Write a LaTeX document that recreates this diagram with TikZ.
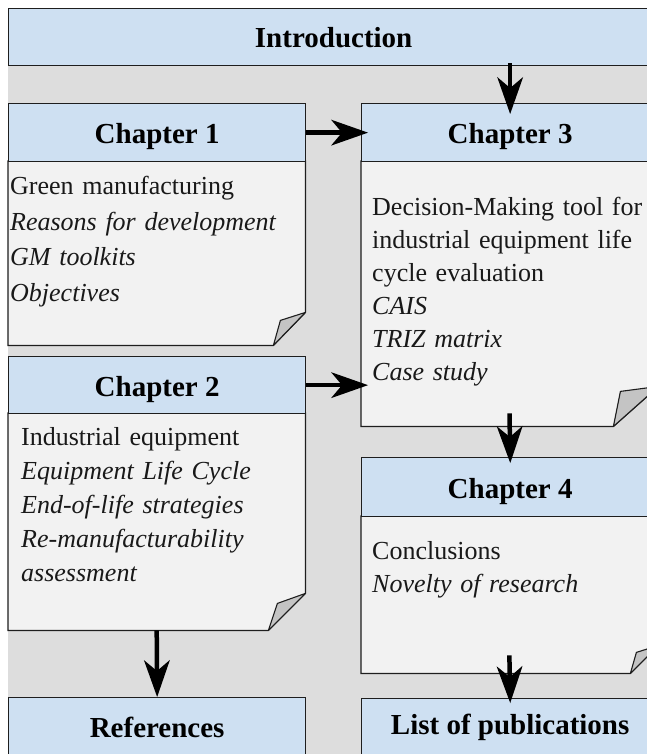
\documentclass[tikz,border=0pt]{standalone}
\usepackage{fontspec}
\setmainfont{Liberation Serif}
\usetikzlibrary{arrows.meta}

\definecolor{panelgray}{RGB}{221,221,221}
\definecolor{headblue}{RGB}{206,224,242}
\definecolor{notefill}{RGB}{242,242,242}
\definecolor{foldgray}{RGB}{196,196,196}
\definecolor{edgeline}{RGB}{30,30,30}

\begin{document}
\begin{tikzpicture}[x=1pt,y=-1pt,
  header/.style={draw=edgeline, line width=1.3pt, fill=headblue, anchor=north west,
    inner sep=0pt, font=\fontsize{29}{32}\selectfont\bfseries, text=black},
  chapterhead/.style={header, text height=22pt, text depth=0pt},
  bodyarea/.style={anchor=north west, inner sep=0pt, minimum width=#1},
  notebody/.style={draw=edgeline, line width=1.3pt, fill=notefill, line join=miter},
  fold/.style={draw=edgeline, line width=1.1pt, fill=foldgray, line join=round},
  bodytext/.style={anchor=base west, inner sep=0pt, text width=285pt, align=left,
    text=black!90, font=\fontsize{26}{#1}\selectfont},
  flow/.style={line width=4.5pt,
    -{Stealth[length=37pt,width=26pt,inset=11pt,line width=0pt]}}
]
\useasboundingbox (0,0) rectangle (647,754);
\fill[white] (0,0) rectangle (647,754);
\fill[panelgray] (8,65) rectangle (662,760);

% Introduction banner
\node[header, minimum width=650pt, minimum height=57pt] (intro) at (8,8) {Introduction};

% Chapter 1
\node[bodyarea=297pt, minimum height=184pt] (b1) at (8,161) {};
\path[notebody] (b1.north west) -- (b1.north east) -- ([yshift=33pt]b1.south east)
  -- ([xshift=-32pt]b1.south east) -- (b1.south west) -- cycle;
\path[fold] ([xshift=-32pt]b1.south east) -- ([xshift=-25pt,yshift=25pt]b1.south east)
  -- ([yshift=33pt]b1.south east) -- cycle;
\node[chapterhead, minimum width=297pt, minimum height=58pt] (h1) at (8,103) {Chapter 1};
\node[bodytext=35.7pt] (t1) at (10,194.5) {Green manufacturing\\
  \textit{Reasons for development}\\ \textit{GM toolkits}\\ \textit{Objectives}};

% Chapter 2
\node[bodyarea=297pt, minimum height=217pt] (b2) at (8,413) {};
\path[notebody] (b2.north west) -- (b2.north east) -- ([yshift=37pt]b2.south east)
  -- ([xshift=-37pt]b2.south east) -- (b2.south west) -- cycle;
\path[fold] ([xshift=-37pt]b2.south east) -- ([xshift=-28pt,yshift=27pt]b2.south east)
  -- ([yshift=37pt]b2.south east) -- cycle;
\node[chapterhead, minimum width=297pt, minimum height=57pt] (h2) at (8,356) {Chapter 2};
\node[bodytext=34pt] (t2) at (21,445) {Industrial equipment\\
  \textit{Equipment Life Cycle}\\ \textit{End-of-life strategies}\\
  \textit{Re-manufacturability}\\ \textit{assessment}};

% Chapter 3
\node[bodyarea=297pt, minimum height=265pt] (b3) at (361,161) {};
\path[notebody] (b3.north west) -- (b3.north east) -- ([yshift=40pt]b3.south east)
  -- ([xshift=-45pt]b3.south east) -- (b3.south west) -- cycle;
\path[fold] ([xshift=-45pt]b3.south east) -- ([xshift=-38pt,yshift=35pt]b3.south east)
  -- ([yshift=40pt]b3.south east) -- cycle;
\node[chapterhead, minimum width=297pt, minimum height=58pt] (h3) at (361,103) {Chapter 3};
\node[bodytext=33pt] (t3) at (372,215) {Decision-Making tool for\\
  industrial equipment life\\ cycle evaluation\\ \textit{CAIS}\\
  \textit{TRIZ matrix}\\ \textit{Case study}};

% Chapter 4
\node[bodyarea=297pt, minimum height=157pt] (b4) at (361,516) {};
\path[notebody] (b4.north west) -- (b4.north east) -- ([yshift=28pt]b4.south east)
  -- ([xshift=-28pt]b4.south east) -- (b4.south west) -- cycle;
\path[fold] ([xshift=-28pt]b4.south east) -- ([xshift=-22pt,yshift=21pt]b4.south east)
  -- ([yshift=28pt]b4.south east) -- cycle;
\node[chapterhead, minimum width=297pt, minimum height=59pt] (h4) at (361,457) {Chapter 4};
\node[bodytext=33pt] (t4) at (372,559) {Conclusions\\ \textit{Novelty of research}};

% Closing sections
\node[header, minimum width=297pt, minimum height=59pt] (refs) at (8,697) {References};
\node[header, minimum width=297pt, minimum height=58pt] (pubs) at (361,698) {List of publications};

% Reading order
\draw[flow, shorten <=-3pt, shorten >=-11pt] (intro.south -| h3.north) -- (h3.north);
\draw[flow, shorten >=-7pt] (h1.east) -- (h1.east -| h3.west);
\draw[flow, shorten >=-7pt] (h2.east) -- (h2.east -| b3.west);
\draw[flow, shorten <=-13pt, shorten >=-6pt] (b3.south) -- (h4.north);
\draw[flow, shorten <=-18pt, shorten >=-5pt] (b4.south) -- (pubs.north);
\draw[flow] (b2.south) -- (refs.north);
\end{tikzpicture}
\end{document}
